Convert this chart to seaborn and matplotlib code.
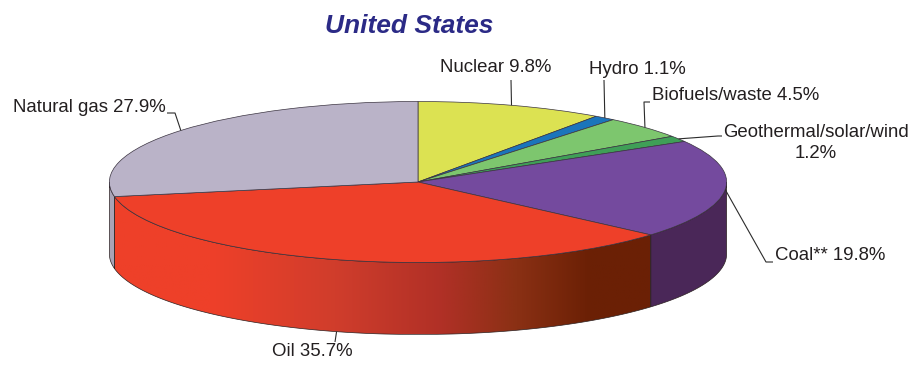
import numpy as np
import matplotlib
matplotlib.use("Agg")
import matplotlib.pyplot as plt
from matplotlib.colors import LinearSegmentedColormap
from matplotlib.patches import Polygon
import seaborn as sns

# clockwise from 12 o'clock
sources = ["Nuclear", "Hydro", "Biofuels/waste", "Geothermal/solar/wind", "Coal**", "Oil", "Natural gas"]
shares = [9.8, 1.1, 4.5, 1.2, 19.8, 35.7, 27.9]
labels = ["Nuclear 9.8%", "Hydro 1.1%", "Biofuels/waste 4.5%", "Geothermal/solar/wind\n1.2%",
          "Coal** 19.8%", "Oil 35.7%", "Natural gas 27.9%"]
top_colors = ["#DCE252", "#1B75BB", "#7DC66E", "#3F9F57", "#744A9E", "#EE4029", "#BAB3C8"]

W, H = 924, 381
CX, CY, RX, RY = 418.0, 182.0, 308.6, 80.5
DEPTH = 72 / RY

# label placement in pixels: text anchor, ha, va, leader elbows after the rim point
layout = {
    "Nuclear": ((440, 68), "left", "center", [(511, 80)]),
    "Hydro": ((589, 70), "left", "center", [(604, 80)]),
    "Biofuels/waste": ((652, 95), "left", "center", [(644, 102), (650, 102)]),
    "Geothermal/solar/wind": ((816, 143), "center", "center", [(718, 136), (722, 136)]),
    "Coal**": ((775, 255), "left", "center", [(766, 262), (773, 262)]),
    "Oil": ((312, 352), "center", "center", [(335, 342)]),
    "Natural gas": ((13, 107), "left", "center", [(175, 113), (167, 113)]),
}


def px(x, y):
    return (x - CX) / RX, (CY - y) / RY


def wall(a, b):
    # outline of the side wall between two angles in degrees
    t = np.radians(np.linspace(a, b, 120))
    top = np.column_stack([np.cos(t), np.sin(t)])
    bot = np.column_stack([np.cos(t[::-1]), np.sin(t[::-1]) - DEPTH])
    return np.vstack([top, bot])


sns.set_theme(style="white")
plt.rcParams["font.family"] = ["Liberation Sans", "DejaVu Sans"]

fig = plt.figure(figsize=(W / 100, H / 100), dpi=100, facecolor="white")
ax = fig.add_axes([0, 0, 1, 1])

palette = sns.color_palette(top_colors)
ax.pie(shares, colors=palette, startangle=90, counterclock=False, radius=1,
       wedgeprops=dict(edgecolor="#3a3340", linewidth=0.5, zorder=3))
ax.set_aspect("auto")

edges = 90 - np.cumsum([0] + shares) * 3.6
mids = (edges[:-1] + edges[1:]) / 2

# side wall, only the front half shows
i_coal, i_oil, i_gas = sources.index("Coal**"), sources.index("Oil"), sources.index("Natural gas")
line = dict(edgecolor="#2b2020", linewidth=0.5)
gas_wall = Polygon(wall(-180, edges[i_gas]), closed=True, facecolor="#A9A3B6", zorder=2, **line)
coal_wall = Polygon(wall(edges[i_coal + 1], 0), closed=True, facecolor="#4A2758", zorder=2, **line)
ax.add_patch(gas_wall)
ax.add_patch(coal_wall)

oil_pts = wall(edges[i_oil], edges[i_oil + 1])
oil_wall = Polygon(oil_pts, closed=True, facecolor="none", zorder=2, **line)
ax.add_patch(oil_wall)
oil_cmap = LinearSegmentedColormap.from_list(
    "oil", [(0, "#EE4029"), (0.18, "#EE4029"), (0.41, "#D03D2C"), (0.61, "#B03026"),
            (0.75, "#8A3014"), (0.885, "#6B2005"), (1, "#6B2005")])
img = ax.imshow(np.linspace(0, 1, 256)[None, :], cmap=oil_cmap, aspect="auto", zorder=1.5,
                extent=(oil_pts[:, 0].min(), oil_pts[:, 0].max(), oil_pts[:, 1].min(), oil_pts[:, 1].max()))
clip = Polygon(oil_pts, closed=True, transform=ax.transData)
img.set_clip_path(clip)

ax.set_xlim((0 - CX) / RX, (W - CX) / RX)
ax.set_ylim((CY - H) / RY, CY / RY)
ax.set_axis_off()

ax.text(*px(409, 26), "United States", fontsize=19, fontweight="bold", fontstyle="italic",
        color="#2B2A86", ha="center", va="center")

for name, lab, mid in zip(sources, labels, mids):
    pos, ha, va, elbows = layout[name]
    t = np.radians(mid)
    rim_x, rim_y = np.cos(t), np.sin(t)
    if name == "Oil":
        rim_y -= DEPTH
    pts = [(rim_x, rim_y)] + [px(*e) for e in elbows]
    ax.plot(*zip(*pts), color="#2b2b2b", lw=0.8, zorder=4, solid_capstyle="butt")
    ax.text(*px(*pos), lab, fontsize=13.4, color="#231F20", ha=ha, va=va, multialignment="center", linespacing=1.35)

fig.savefig("out.png", dpi=100, facecolor="white")
